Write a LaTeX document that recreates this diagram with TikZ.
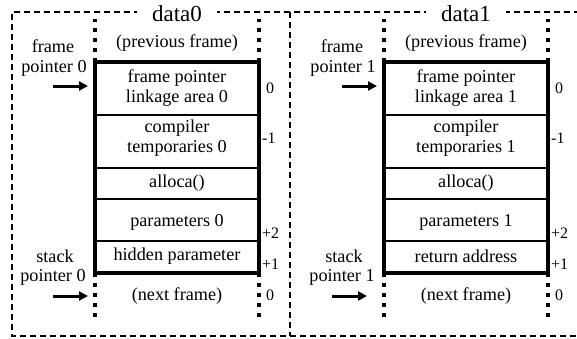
\documentclass[tikz,border=0pt]{standalone}
\usepackage{fontspec}
\setmainfont{Liberation Serif}
\usetikzlibrary{arrows.meta}

\tikzset{
  lbl/.style={font=\fontsize{18.2}{20}\selectfont, inner sep=0pt},
  ttl/.style={font=\fontsize{23}{25}\selectfont, fill=white, inner ysep=2pt, inner xsep=15pt},
  offs/.style={font=\fontsize{16}{18}\selectfont, anchor=west, inner sep=0pt},
  framebox/.style={line width=3.8pt, line join=miter},
  cellsep/.style={line width=1.5pt},
  dotline/.style={line width=4pt, dash pattern=on 4pt off 6pt},
  border/.style={line width=2pt, dash pattern=on 6pt off 4pt},
  ptr/.style={line width=3pt, -{Triangle[length=9pt,width=9pt]}},
}

% One stack frame diagram: #1 x offset, #2 index, #3 bottom cell text,
% #4 horizontal shift of the stack pointer arrow
\newcommand\stackframe[4]{%
  \begin{scope}[xshift=#1pt]
    \node[ttl] (title#2) at (177,14) {data#2};
    % frame outline and cell separators
    \draw[framebox] (95,62) rectangle (259,273);
    \draw[cellsep] (95,115) -- (259,115);
    \draw[cellsep] (95,168) -- (259,168);
    \draw[cellsep] (95,199) -- (259,199);
    \draw[cellsep] (95,241) -- (259,241);
    % neighbouring frames, drawn as dotted continuations
    \draw[dotline] (95,62) -- (95,19);
    \draw[dotline] (259,62) -- (259,19);
    \draw[dotline] (95,273) -- (95,317);
    \draw[dotline] (259,273) -- (259,317);
    % cell contents
    \node[lbl] (prev#2) at (177,43) {(previous frame)};
    \node[lbl] (fpa#2) at (177,78) {frame pointer};
    \node[lbl] (fpb#2) at (177,98) {linkage area #2};
    \node[lbl] (cta#2) at (177,128) {compiler};
    \node[lbl] (ctb#2) at (177,148) {temporaries #2};
    \node[lbl] (alloca#2) at (177,183) {alloca()};
    \node[lbl] (params#2) at (177,222) {parameters #2};
    \node[lbl] (last#2) at (177,256) {#3};
    \node[lbl] (next#2) at (177,296) {(next frame)};
    % pointer labels and arrows
    \node[lbl] (fpl#2) at (53,46) {frame};
    \node[lbl] (fpm#2) at (54,68) {pointer #2};
    \coordinate (fpt#2) at (53,86);
    \coordinate (fph#2) at (88,86);
    \draw[ptr] (fpt#2) -- (fph#2);
    \node[lbl] (spl#2) at (55,256) {stack};
    \node[lbl] (spm#2) at (53,277) {pointer #2};
    \coordinate (spt#2) at ({53+#4},296);
    \coordinate (sph#2) at ({88+#4},296);
    \draw[ptr] (spt#2) -- (sph#2);
    % word offsets
    \node[offs] (oa#2) at (266,88) {0};
    \node[offs] (ob#2) at (262,138) {-1};
    \node[offs] (oc#2) at (262,233) {+2};
    \node[offs] (od#2) at (262,264) {+1};
    \node[offs] (oe#2) at (266,295) {0};
  \end{scope}}

\begin{document}
\begin{tikzpicture}[x=1pt,y=-1pt]
  \useasboundingbox (0,0) rectangle (577,338);
  % enclosing dashed frame, open to the right
  \draw[border] (580,12) -- (12,12) -- (12,336) -- (580,336);
  \draw[border] (290,12) -- (290,336);
  \stackframe{0}{0}{hidden parameter}{0}
  \stackframe{289}{1}{return address}{-10}
\end{tikzpicture}
\end{document}
